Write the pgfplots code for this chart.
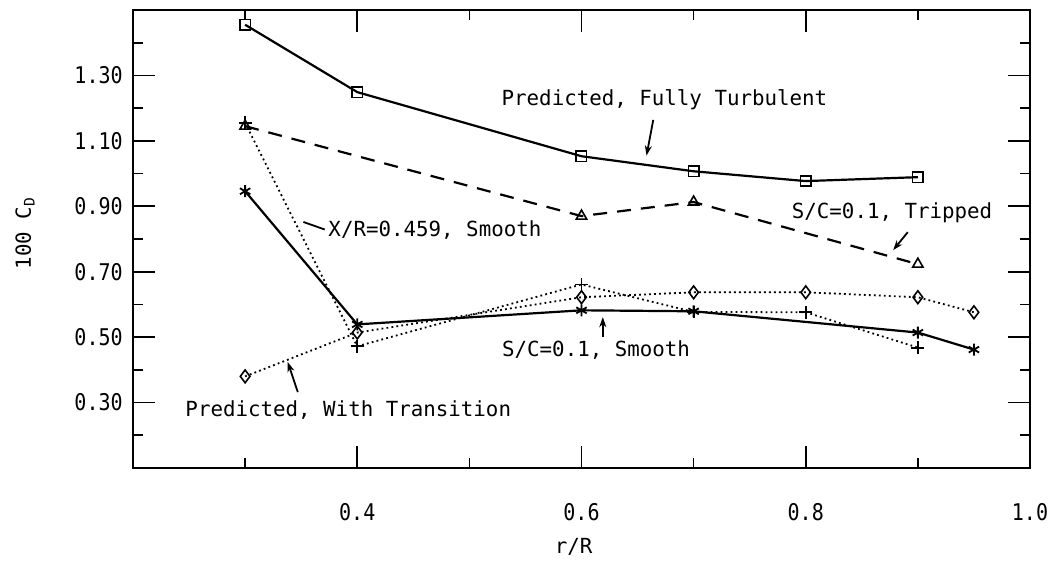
\documentclass[border=0pt]{standalone}
\usepackage{fontspec}
\setmainfont{DejaVu Sans Mono}
\newfontfamily\tickfont[FakeStretch=0.87]{DejaVu Sans Mono}
\usepackage{pgfplots}
\pgfplotsset{compat=1.18}
\usetikzlibrary{arrows.meta}

\begin{document}
\fontsize{10.4}{12}\selectfont
\begin{tikzpicture}[
  lbl/.style={font=\fontsize{10.4}{12}\selectfont, inner sep=0pt},
  ptr/.style={line width=0.9pt, -{Stealth[length=5pt,width=3.5pt]}},
]
\begin{axis}[
  scale only axis, width=448.5pt, height=229pt,
  xmin=0.2, xmax=1.0, ymin=0.1, ymax=1.5,
  xtick={0.4,0.6,0.8,1.0}, minor xtick={0.3,0.5,0.7,0.9},
  ytick={0.3,0.5,0.7,0.9,1.1,1.3}, minor ytick={0.2,0.4,0.6,0.8,1.0,1.2,1.4},
  tick align=inside,
  major tick length=11pt, minor tick length=5pt,
  tick style={line width=0.8pt, black},
  axis line style={line width=1.2pt},
  /pgf/number format/assume math mode=true,
  xticklabel style={/pgf/number format/fixed, /pgf/number format/fixed zerofill,
    /pgf/number format/precision=1, anchor=center, yshift=-22pt},
  yticklabel style={/pgf/number format/fixed, /pgf/number format/fixed zerofill,
    /pgf/number format/precision=2, xshift=-1.5pt},
  every tick label/.append style={font=\tickfont\fontsize{11.5}{13}\selectfont},
  clip=false,
]
% Predicted, fully turbulent
\addplot[line width=1.1pt, mark=square, mark size=2.6pt,
  mark options={line width=0.8pt}] coordinates {
  (0.3,1.455) (0.4,1.249) (0.6,1.053) (0.7,1.007) (0.8,0.977) (0.9,0.989)};
% S/C=0.1, tripped
\addplot[line width=1.1pt, dash pattern=on 7pt off 5pt, mark=triangle, mark size=3pt,
  mark options={solid, line width=0.8pt}] coordinates {
  (0.3,1.145) (0.6,0.870) (0.7,0.913) (0.9,0.723)};
% X/R=0.459, smooth
\addplot[line width=0.9pt, dash pattern=on 0.9pt off 1.6pt, mark=+, mark size=3.2pt,
  mark options={solid, line width=0.9pt}] coordinates {
  (0.3,1.155) (0.4,0.472) (0.6,0.661) (0.7,0.577) (0.8,0.576) (0.9,0.468)};
% Predicted, with transition
\addplot[line width=0.9pt, dash pattern=on 0.9pt off 1.6pt, mark=diamond, mark size=3.2pt,
  mark options={solid, line width=0.8pt}] coordinates {
  (0.3,0.380) (0.4,0.514) (0.6,0.622) (0.7,0.637) (0.8,0.637) (0.9,0.622) (0.95,0.576)};
% S/C=0.1, smooth
\addplot[line width=1.1pt, mark=asterisk, mark size=3pt,
  mark options={line width=0.9pt}] coordinates {
  (0.3,0.946) (0.4,0.539) (0.6,0.582) (0.7,0.579) (0.9,0.514) (0.95,0.462)};

% curve labels
\node[lbl] at (axis cs:0.674,1.225) {Predicted, Fully Turbulent};
\draw[ptr] (axis cs:0.664,1.164) -- (axis cs:0.658,1.055);
\node[lbl] at (axis cs:0.877,0.879) {S/C=0.1, Tripped};
\draw[ptr] (axis cs:0.891,0.821) -- (axis cs:0.878,0.766);
\node[lbl, anchor=west] at (axis cs:0.374,0.827) {X/R=0.459, Smooth};
\draw[line width=0.9pt] (axis cs:0.352,0.852) -- (axis cs:0.371,0.829);
\node[lbl] at (axis cs:0.613,0.461) {S/C=0.1, Smooth};
\draw[ptr] (axis cs:0.619,0.500) -- (axis cs:0.619,0.561);
\node[lbl] at (axis cs:0.392,0.277) {Predicted, With Transition};
\draw[ptr] (axis cs:0.347,0.332) -- (axis cs:0.338,0.424);

% axis titles
\node[lbl, rotate=90] at ([xshift=-54pt]axis cs:0.2,0.818) {100 C\textsubscript{D}};
\node[lbl] at ([yshift=-39.5pt]axis cs:0.593,0.1) {r/R};
\end{axis}
\pgfresetboundingbox
\path ([shift={(-66.5pt,234pt)}]current axis.south west)
      ([shift={(464.5pt,-47pt)}]current axis.south west);
\end{tikzpicture}
\end{document}
